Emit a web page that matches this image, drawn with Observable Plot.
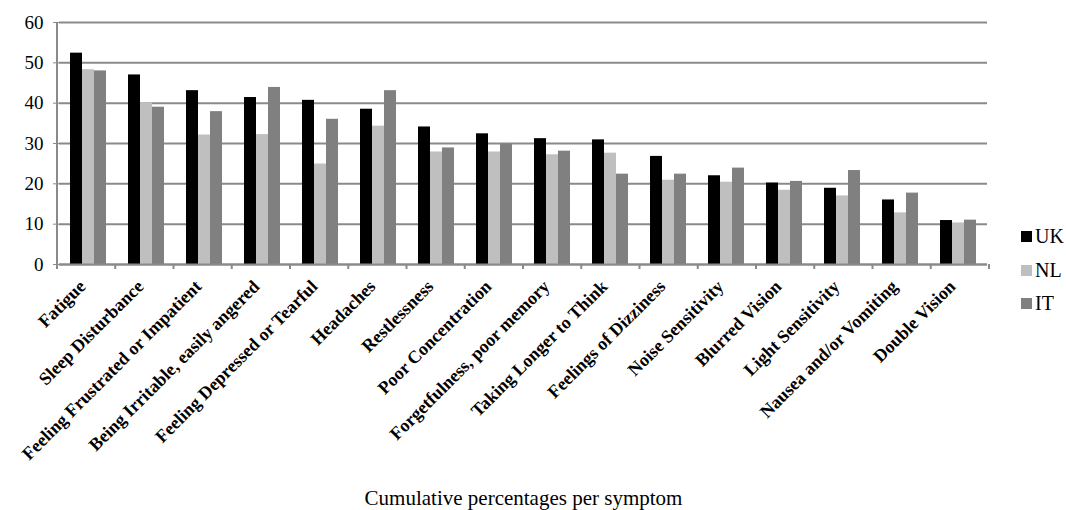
<!DOCTYPE html>
<html><head><meta charset="utf-8">
<script src="https://cdn.jsdelivr.net/npm/d3@7"></script>
<script src="https://cdn.jsdelivr.net/npm/@observablehq/plot@0.6"></script>
<style>
body{margin:0;background:#fff;}
#wrap{display:flex;width:1066px;height:510px;background:#fff;}
#legend{padding-top:220px;padding-left:21px;font-family:"Liberation Serif","DejaVu Serif",serif;font-size:20px;color:#000;}
#legend .row{height:33.5px;line-height:33.5px;display:flex;align-items:center;}
#legend .sw{width:11px;height:11px;margin-right:3px;display:inline-block;}
</style></head><body>
<div id="wrap"><div id="chart"></div><div id="legend"></div></div>
<script>
const symptoms = ["Fatigue","Sleep Disturbance","Feeling Frustrated or Impatient","Being Irritable, easily angered","Feeling Depressed or Tearful","Headaches","Restlessness","Poor Concentration","Forgetfulness, poor memory","Taking Longer to Think","Feelings of Dizziness","Noise Sensitivity","Blurred Vision","Light Sensitivity","Nausea and/or Vomiting","Double Vision"];
const countries = ["UK","NL","IT"];
const ukValues = [52.4,47.0,43.1,41.4,40.7,38.5,34.1,32.4,31.2,30.9,26.8,22.0,20.2,18.9,16.0,10.9];
const nlValues = [48.3,40.1,32.1,32.2,24.9,34.3,27.9,27.9,27.2,27.6,20.9,20.4,18.4,17.0,12.8,10.3];
const itValues = [48.0,39.0,37.9,43.9,36.0,43.1,28.9,29.9,28.1,22.4,22.4,23.9,20.6,23.3,17.7,11.0];
const countryColors = ["#000000","#bfbfbf","#808080"];
const yTicks = [0,10,20,30,40,50,60];
const xTitle = "Cumulative percentages per symptom";

const series = [ukValues, nlValues, itValues];
const rows = symptoms.flatMap((s, i) => countries.map((c, j) => ({symptom: s, country: c, value: series[j][i]})));

const serif = '"Liberation Serif", "DejaVu Serif", serif';
const gray = "#8a8a8a";
const chart = Plot.plot({
  width: 1000, height: 510,
  marginLeft: 57, marginRight: 11, marginTop: 22, marginBottom: 246,
  style: {fontFamily: serif, background: "#fff", color: "#000"},
  fx: {domain: symptoms, padding: 0},
  x: {domain: countries, paddingInner: 0, paddingOuter: 0.755, axis: null},
  y: {domain: [0, 60], ticks: yTicks},
  color: {domain: countries, range: countryColors},
  marks: [
    Plot.gridY(yTicks, {stroke: gray, strokeOpacity: 1, strokeWidth: 2}),
    Plot.barY(rows, {fx: "symptom", x: "country", y: "value", fill: "country"}),
    Plot.ruleY([0], {stroke: gray, strokeWidth: 2}),
    Plot.axisY(yTicks, {tickSize: 6, tickPadding: 10, fontSize: 19, fontFamily: serif, label: null, stroke: gray, fill: "#000"}),
    Plot.axisFx({anchor: "bottom", tickRotate: -45, tickSize: 0, tickPadding: 14, dx: -6, dy: 5, fontSize: 18, fontWeight: "bold", fontFamily: serif, fill: "#000", label: null}),
    Plot.axisFx({anchor: "bottom", ticks: [], tickSize: 0, fontSize: 21, fontWeight: "normal", fontFamily: serif, fill: "#000", label: xTitle, labelAnchor: "center", labelOffset: 240})
  ]
});
document.getElementById("chart").appendChild(chart);

// category boundary ticks and y axis line, placed through Plot's own scales
const svg = d3.select(chart.tagName.toLowerCase() === "svg" ? chart : chart.querySelector("svg"));
const fxS = chart.scale("fx"), yS = chart.scale("y");
if (fxS && yS) {
  const [r0, r1] = fxS.range;
  const step = (r1 - r0) / fxS.domain.length;
  const y0 = yS.apply(0), yTop = yS.apply(60);
  const g = svg.append("g").attr("stroke", gray).attr("stroke-width", 2);
  d3.range(fxS.domain.length + 1).forEach(i => {
    const x = r0 + i * step;
    g.append("line").attr("x1", x).attr("x2", x).attr("y1", y0).attr("y2", y0 + 5);
  });
  g.append("line").attr("x1", r0).attr("x2", r0).attr("y1", yTop).attr("y2", y0 + 5);
}

const legend = d3.select("#legend");
countries.forEach((c, j) => {
  const row = legend.append("div").attr("class", "row");
  row.append("span").attr("class", "sw").style("background", countryColors[j]);
  row.append("span").text(c);
});
</script>
</body></html>
